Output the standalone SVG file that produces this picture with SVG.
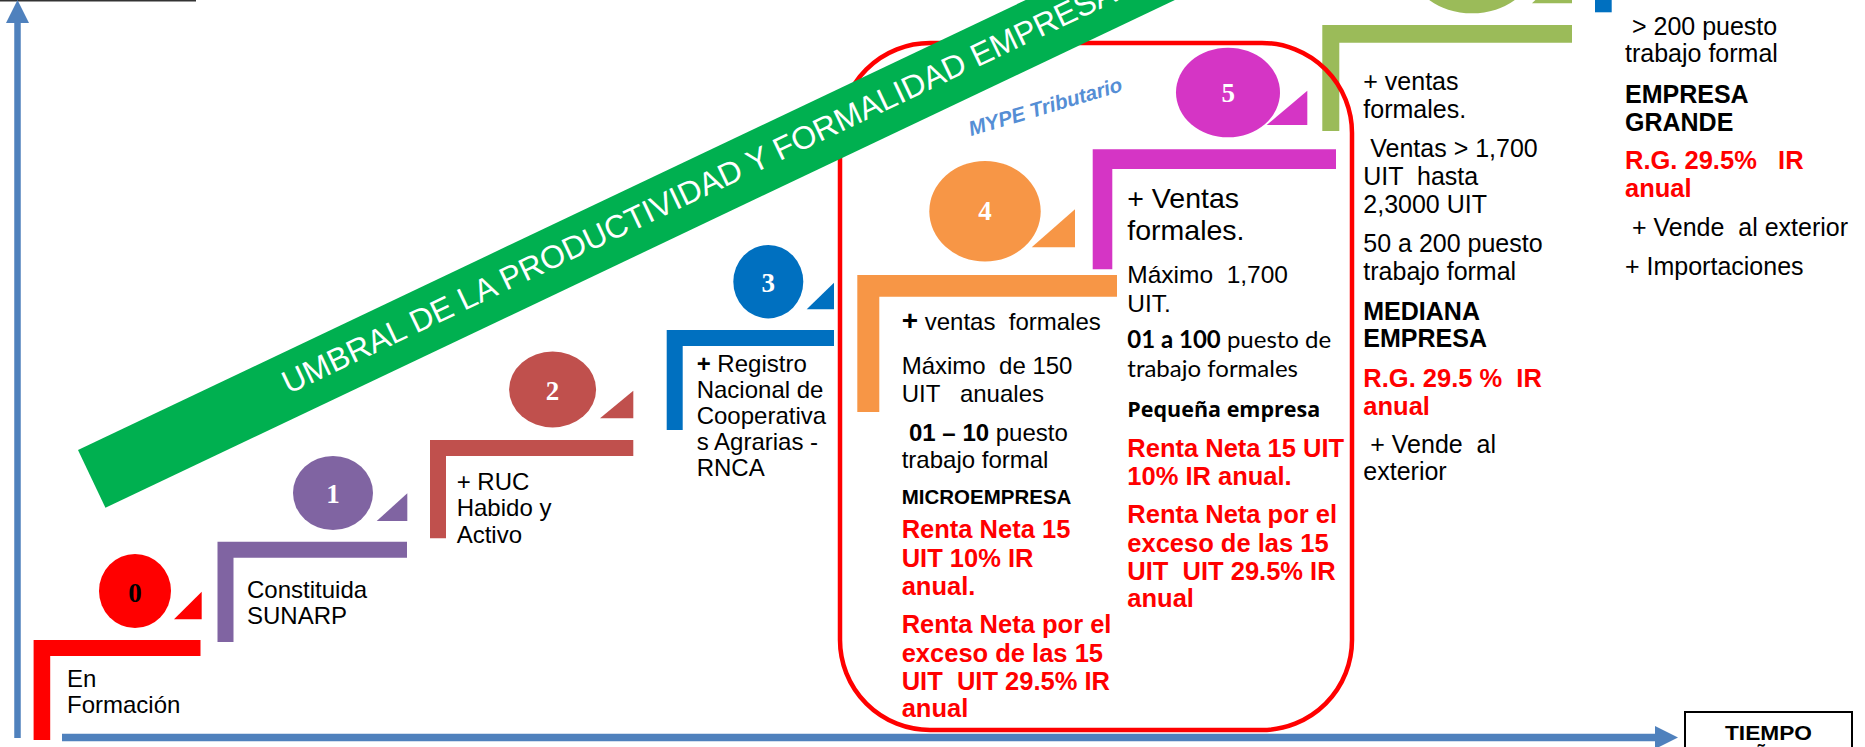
<svg xmlns="http://www.w3.org/2000/svg" width="1865" height="747" viewBox="0 0 1865 747">
<defs>
<style>
text{white-space:pre;font-family:"Liberation Sans",Arial,sans-serif;font-size:24px;fill:#000}
.b{font-weight:bold}
.s{font-size:25px}
.r{fill:#FF0000;font-weight:bold;font-size:25.5px}
.n{font-family:"Liberation Serif","Times New Roman",serif;font-weight:bold;font-size:27px;text-anchor:middle;fill:#fff}
.cal{font-family:Lato,"Liberation Sans",sans-serif;font-size:24px}
</style>
<marker id="ah" markerUnits="userSpaceOnUse" markerWidth="23" markerHeight="23" refX="0" refY="11.5" orient="auto" viewBox="0 0 23 23"><path d="M0,0 L23,11.5 L0,23 Z" fill="#4F81BD"/></marker>
</defs>
<rect width="1865" height="747" fill="#fff"/>
<line x1="0" y1="0.75" x2="196" y2="0.75" stroke="#333" stroke-width="1.5"/>
<g id="connectors">
<line x1="17.5" y1="738" x2="17.5" y2="23" stroke="#4F81BD" stroke-width="6.5" marker-end="url(#ah)"/>
<line x1="62" y1="737.5" x2="1655" y2="737.5" stroke="#4F81BD" stroke-width="7.5" marker-end="url(#ah)"/>
</g>
<g id="step0">
<path d="M33.6,640 H200.5 V656 H50.2 V740 H33.6 Z" fill="#FF0000"/>
<ellipse cx="135" cy="591" rx="36" ry="37" fill="#FF0000"/>
<polygon points="174,619.3 201.7,619.3 201.7,591.7" fill="#FF0000"/>
<text class="n" x="135" y="602" style="fill:#000">0</text>
<text x="67" y="686.7">En</text>
<text x="67" y="712.7">Formación</text>
</g>
<g id="step1">
<path d="M217.5,541.7 H407 V557.7 H233.5 V642 H217.5 Z" fill="#8064A2"/>
<ellipse cx="333" cy="493" rx="40" ry="37" fill="#8064A2"/>
<polygon points="376.7,521 407.3,521 407.3,493.3" fill="#8064A2"/>
<text class="n" x="333" y="503">1</text>
<text x="247" y="598.3">Constituida</text>
<text x="247" y="624.3">SUNARP</text>
</g>
<g id="step2">
<path d="M430,440 H633.3 V456 H446 V538.3 H430 Z" fill="#C0504D"/>
<ellipse cx="552.6" cy="389.5" rx="43.5" ry="38" fill="#C0504D"/>
<polygon points="600,418.3 633.3,418.3 633.3,390.7" fill="#C0504D"/>
<text class="n" x="552.6" y="400">2</text>
<text x="456.7" y="490">+ RUC</text>
<text x="456.7" y="516.3">Habido y</text>
<text x="456.7" y="542.5">Activo</text>
</g>
<g id="step3">
<path d="M666.7,330 H834 V346 H682.7 V430 H666.7 Z" fill="#0070C0"/>
<ellipse cx="768.3" cy="281.7" rx="35" ry="36.7" fill="#0070C0"/>
<polygon points="806.7,309.3 834,309.3 834,282.7" fill="#0070C0"/>
<text class="n" x="768.3" y="291.7">3</text>
<text x="696.7" y="371.7"><tspan class="b">+</tspan> Registro</text>
<text x="696.7" y="397.7">Nacional de</text>
<text x="696.7" y="423.5">Cooperativa</text>
<text x="696.7" y="449.5">s Agrarias -</text>
<text x="696.7" y="475.5">RNCA</text>
</g>
<g id="step4">
<path d="M857.3,275 H1117 V296.7 H879.3 V412 H857.3 Z" fill="#F79646"/>
<ellipse cx="985" cy="211.3" rx="55.7" ry="50.3" fill="#F79646"/>
<polygon points="1031.7,247.3 1075,247.3 1075,209.3" fill="#F79646"/>
<text class="n" x="985" y="220">4</text>
<text x="901.7" y="330"><tspan class="b" style="font-size:28px">+</tspan> ventas  formales</text>
<text x="901.7" y="374">Máximo  de 150</text>
<text x="901.7" y="402.3">UIT   anuales</text>
<text x="909" y="440.7"><tspan class="b">01 – 10</tspan> puesto</text>
<text x="901.7" y="468.3">trabajo formal</text>
<text x="901.7" y="504" class="b" style="font-size:20.5px">MICROEMPRESA</text>
<text x="901.7" y="538.3" class="r">Renta Neta 15</text>
<text x="901.7" y="566.7" class="r">UIT 10% IR</text>
<text x="901.7" y="595" class="r">anual.</text>
<text x="901.7" y="633.3" class="r">Renta Neta por el</text>
<text x="901.7" y="661.7" class="r">exceso de las 15</text>
<text x="901.7" y="690" class="r">UIT  UIT 29.5% IR</text>
<text x="901.7" y="716.7" class="r">anual</text>
</g>
<g id="step5">
<path d="M1092.7,149.3 H1336 V169 H1112.3 V269.3 H1092.7 Z" fill="#D535C5"/>
<ellipse cx="1228" cy="92.5" rx="52" ry="44.8" fill="#D535C5"/>
<polygon points="1266.7,125 1307.3,125 1307.3,90.7" fill="#D535C5"/>
<text class="n" x="1228.3" y="101.7">5</text>
<text x="1127.3" y="208.3" style="font-size:28.5px">+ Ventas</text>
<text x="1127.3" y="240" style="font-size:28.5px">formales.</text>
<text x="1127.3" y="283.3" style="font-size:24.5px">Máximo  1,700</text>
<text x="1127.3" y="311.7" style="font-size:24.5px">UIT.</text>
<text x="1127.3" y="348.3" class="cal"><tspan class="b">01 a 100</tspan> puesto de</text>
<text x="1127.3" y="376.7" class="cal">trabajo formales</text>
<text x="1127.3" y="416.7" style="font-family:'Open Sans',sans-serif;font-weight:bold;font-size:21.5px">Pequeña empresa</text>
<text x="1127.3" y="456.7" class="r">Renta Neta 15 UIT</text>
<text x="1127.3" y="485" class="r">10% IR anual.</text>
<text x="1127.3" y="523.3" class="r">Renta Neta por el</text>
<text x="1127.3" y="551.7" class="r">exceso de las 15</text>
<text x="1127.3" y="580" class="r">UIT  UIT 29.5% IR</text>
<text x="1127.3" y="606.7" class="r">anual</text>
</g>
<g id="step6">
<path d="M1322.3,25 H1572 V42.7 H1339.3 V131 H1322.3 Z" fill="#9BBB59"/>
<ellipse cx="1472" cy="-34.7" rx="62" ry="48" fill="#9BBB59"/>
<polygon points="1532,3.3 1572,3.3 1572,-35" fill="#9BBB59"/>
<text x="1363.3" y="90" class="s">+ ventas</text>
<text x="1363.3" y="118.3" class="s">formales.</text>
<text x="1363.3" y="156.7" class="s"> Ventas &gt; 1,700</text>
<text x="1363.3" y="185" class="s">UIT  hasta</text>
<text x="1363.3" y="213.3" class="s">2,3000 UIT</text>
<text x="1363.3" y="251.7" class="s">50 a 200 puesto</text>
<text x="1363.3" y="280" class="s">trabajo formal</text>
<text x="1363.3" y="320" class="s b">MEDIANA</text>
<text x="1363.3" y="346.7" class="s b">EMPRESA</text>
<text x="1363.3" y="387.3" class="r">R.G. 29.5 %  IR</text>
<text x="1363.3" y="415" class="r">anual</text>
<text x="1363.3" y="453.3" class="s"> + Vende  al</text>
<text x="1363.3" y="480" class="s">exterior</text>
</g>
<g id="step7">
<rect x="1595" y="-100" width="16.7" height="112.3" fill="#0070C0"/>
<text x="1625" y="35" class="s"> &gt; 200 puesto</text>
<text x="1625" y="61.7" class="s">trabajo formal</text>
<text x="1625" y="102.7" class="s b">EMPRESA</text>
<text x="1625" y="130.7" class="s b">GRANDE</text>
<text x="1625" y="169.3" class="r">R.G. 29.5%   IR</text>
<text x="1625" y="196.7" class="r">anual</text>
<text x="1625" y="236" class="s"> + Vende  al exterior</text>
<text x="1625" y="275" class="s">+ Importaciones</text>
</g>
<g id="mype">
<rect x="840" y="43" width="512" height="687" rx="90" ry="90" fill="none" stroke="#FF0000" stroke-width="4.5"/>
</g>
<g id="banner" transform="translate(78,450) rotate(-25.4)">
<rect x="0" y="0" width="1500" height="64" fill="#00B050"/>
<text x="214" y="40" style="fill:#fff;font-size:32px">UMBRAL DE LA PRODUCTIVIDAD Y FORMALIDAD EMPRESARIAL</text>
</g>
<g id="mype-label">
<text transform="translate(971,136) rotate(-16.5)" style="fill:#558ED5;font-weight:bold;font-style:italic;font-size:20.5px">MYPE Tributario</text>
</g>
<g id="tiempo">
<rect x="1685" y="712" width="167" height="60" fill="#fff" stroke="#000" stroke-width="2"/>
<text x="1725" y="740" class="b" style="font-size:21px" textLength="87" lengthAdjust="spacingAndGlyphs">TIEMPO</text>
<text x="1768.5" y="762" text-anchor="middle" class="b" style="font-size:20px">AÑOS</text>
</g>
</svg>
